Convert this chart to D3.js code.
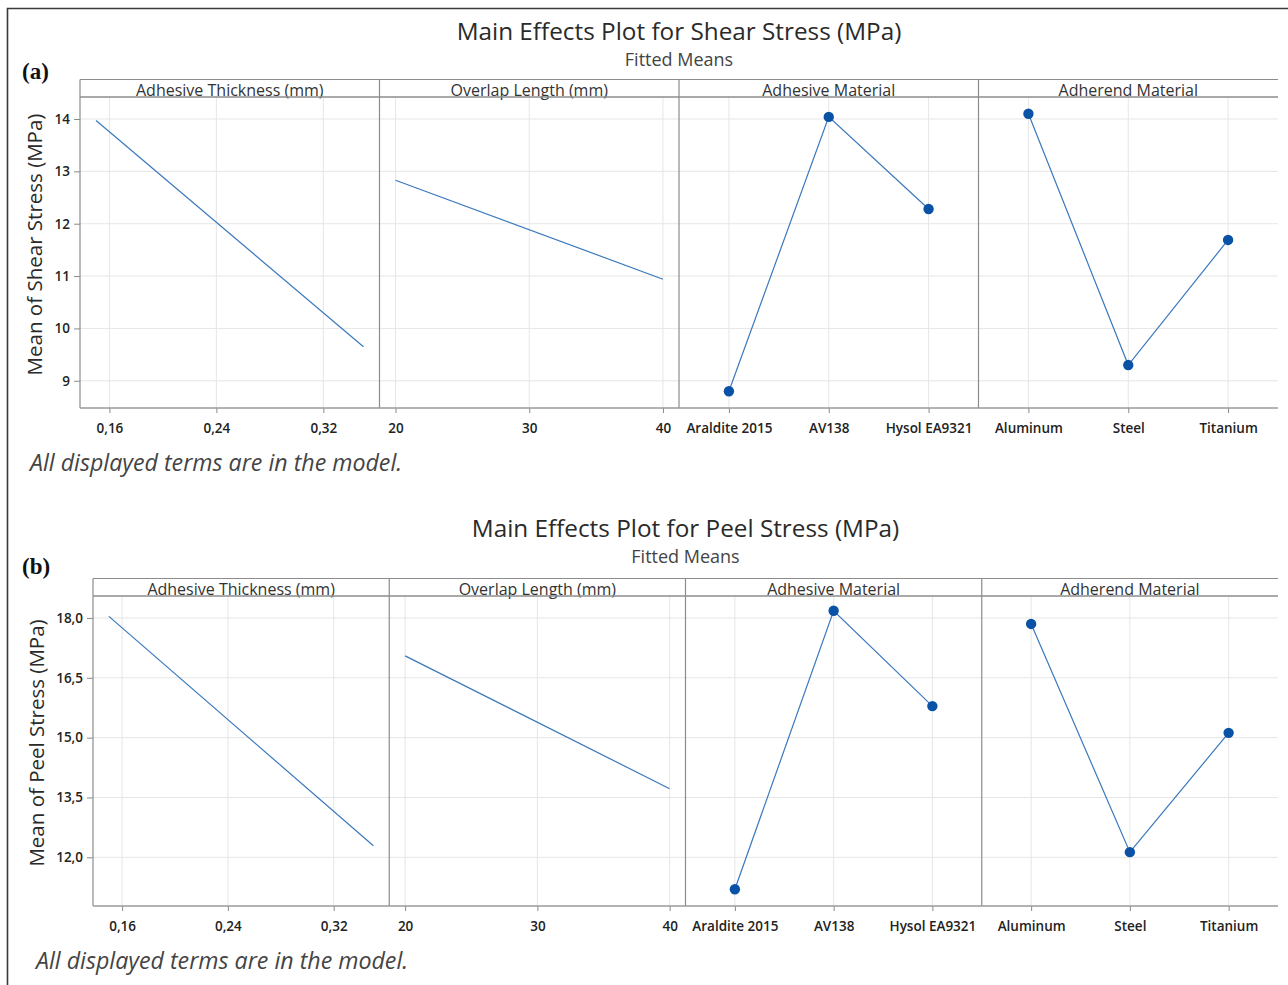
<!DOCTYPE html>
<html><head><meta charset="utf-8">
<script src="https://cdn.jsdelivr.net/npm/d3@7"></script>
<style>
body{margin:0;background:#fff;}
svg{display:block;}
text{font-family:"Open Sans","Noto Sans",sans-serif;}
</style></head>
<body><svg id="c" width="1288" height="985"></svg>
<script>
// ---------- data ----------
const factors = ["Adhesive Thickness (mm)", "Overlap Length (mm)", "Adhesive Material", "Adherend Material"];
const thicknessLevels = [0.15, 0.35];
const overlapLevels = [20, 40];
const adhesiveLevels = ["Araldite 2015", "AV138", "Hysol EA9321"];
const adherendLevels = ["Aluminum", "Steel", "Titanium"];
const thicknessTicks = [0.16, 0.24, 0.32];
const overlapTicks = [20, 30, 40];

const shearThickness = [13.97, 9.65];
const shearOverlap = [12.83, 10.94];
const shearAdhesive = [8.80, 14.04, 12.28];
const shearAdherend = [14.10, 9.30, 11.69];
const shearTicks = [9, 10, 11, 12, 13, 14];
const shearDomain = [8.48, 14.42];

const peelThickness = [18.04, 12.29];
const peelOverlap = [17.05, 13.72];
const peelAdhesive = [11.20, 18.18, 15.79];
const peelAdherend = [17.85, 12.13, 15.12];
const peelTicks = [12.0, 13.5, 15.0, 16.5, 18.0];
const peelDomain = [10.78, 18.55];

// ---------- layout ----------
const svg = d3.select("#c");
const fmtComma = d => d3.format(".2f")(d).replace(".", ",");
const fmt1 = d => d3.format(".1f")(d).replace(".", ",");

// outer frame
svg.append("path").attr("d", "M7.5,986 V8.5 H1289").attr("fill", "none")
  .attr("stroke", "#3a3a3a").attr("stroke-width", 1.6);

function drawChart(cfg) {
  const g = svg.append("g");
  const L = cfg.left, R = 1278, sT = cfg.stripTop, sB = cfg.stripBottom, pB = cfg.plotBottom;
  const pw = (R - L) / 4;
  const y = d3.scaleLinear().domain(cfg.yDomain).range([pB, sB]);

  // titles
  const cx = (L + R) / 2;
  g.append("text").attr("x", cx).attr("y", cfg.titleY).attr("text-anchor", "middle")
    .attr("font-size", 24.3).attr("fill", "#2a2a2a").text(cfg.title);
  g.append("text").attr("x", cx).attr("y", cfg.titleY + 26).attr("text-anchor", "middle")
    .attr("font-size", 18).attr("fill", "#444").text("Fitted Means");
  g.append("text").attr("x", 22).attr("y", cfg.tagY)
    .style("font-family", "'Liberation Serif','DejaVu Serif',serif")
    .attr("font-weight", "bold").attr("font-size", 23).attr("fill", "#111").text(cfg.tag);

  const panels = [
    {type: "lin", levels: thicknessLevels, vals: cfg.thickness, ticks: thicknessTicks, fmt: fmtComma},
    {type: "lin", levels: overlapLevels, vals: cfg.overlap, ticks: overlapTicks, fmt: d3.format("d")},
    {type: "cat", levels: adhesiveLevels, vals: cfg.adhesive},
    {type: "cat", levels: adherendLevels, vals: cfg.adherend}
  ];

  // horizontal grid
  g.append("g").selectAll("line").data(cfg.yTicks).join("line")
    .attr("x1", L).attr("x2", R).attr("y1", d => y(d)).attr("y2", d => y(d))
    .attr("stroke", "#e6e6e6").attr("stroke-width", 1);

  panels.forEach((p, i) => {
    const x0 = L + i * pw, x1 = x0 + pw;
    let x, ticks;
    if (p.type === "lin") {
      const [a, b] = p.levels, pad = (b - a) * 0.06;
      x = d3.scaleLinear().domain([a - pad, b + pad]).range([x0, x1]);
      ticks = p.ticks;
    } else {
      x = d3.scalePoint().domain(p.levels).range([x0, x1]).padding(0.5);
      ticks = p.levels;
    }
    const pg = g.append("g");
    // vertical grid
    pg.selectAll("line.vg").data(ticks).join("line").attr("class", "vg")
      .attr("x1", d => x(d)).attr("x2", d => x(d)).attr("y1", sB).attr("y2", pB)
      .attr("stroke", "#e6e6e6");
    // x axis
    const ax = p.type === "lin" ? d3.axisBottom(x).tickValues(ticks).tickFormat(p.fmt) : d3.axisBottom(x);
    const axg = pg.append("g").attr("transform", `translate(0,${pB})`).call(ax.tickSize(5).tickPadding(10));
    axg.select(".domain").remove();
    axg.selectAll(".tick line").attr("stroke", "#8a8a8a");
    axg.selectAll(".tick text").attr("font-size", 13.5).attr("font-weight", 600).attr("fill", "#222")
      .style("font-family", "'Open Sans','Noto Sans',sans-serif");
    // data
    const pts = p.levels.map((lv, k) => [x(lv), y(p.vals[k])]);
    pg.append("path").attr("d", d3.line()(pts)).attr("fill", "none")
      .attr("stroke", "#3a78bd").attr("stroke-width", 1.2);
    if (p.type === "cat") {
      pg.selectAll("circle").data(pts).join("circle")
        .attr("cx", d => d[0]).attr("cy", d => d[1]).attr("r", 5.2).attr("fill", "#0a52a5");
    }
    // strip label
    pg.append("text").attr("x", (x0 + x1) / 2).attr("y", sB - 1).attr("text-anchor", "middle")
      .attr("font-size", 16).attr("fill", "#333").text(factors[i]);
    // divider
    pg.append("line").attr("x1", x0).attr("x2", x0).attr("y1", sT).attr("y2", pB)
      .attr("stroke", "#8c8c8c").attr("stroke-width", 1.2);
  });

  // strip lines and bottom axis
  g.append("line").attr("x1", L).attr("x2", R).attr("y1", sT).attr("y2", sT).attr("stroke", "#8c8c8c").attr("stroke-width", 1.2);
  g.append("line").attr("x1", L).attr("x2", R).attr("y1", sB).attr("y2", sB).attr("stroke", "#8c8c8c").attr("stroke-width", 1.6);
  g.append("line").attr("x1", L).attr("x2", R).attr("y1", pB).attr("y2", pB).attr("stroke", "#9a9a9a").attr("stroke-width", 1.4);

  // y axis
  const yax = g.append("g").attr("transform", `translate(${L},0)`)
    .call(d3.axisLeft(y).tickValues(cfg.yTicks).tickFormat(cfg.yFmt).tickSize(6).tickPadding(4));
  yax.select(".domain").remove();
  yax.selectAll(".tick line").attr("stroke", "#8a8a8a");
  yax.selectAll(".tick text").attr("font-size", 13.5).attr("font-weight", 600).attr("fill", "#222")
    .style("font-family", "'Open Sans','Noto Sans',sans-serif");

  g.append("text").attr("transform", `translate(${cfg.ylabX},${(sB + pB) / 2 - 8}) rotate(-90)`)
    .attr("text-anchor", "middle").attr("font-size", 20.5).attr("fill", "#2a2a2a").text(cfg.ylab);

  g.append("text").attr("x", cfg.footX).attr("y", cfg.footY).attr("font-size", 23.2)
    .attr("font-style", "italic").attr("fill", "#444").text("All displayed terms are in the model.");
}

drawChart({
  left: 80, stripTop: 79.5, stripBottom: 97, plotBottom: 408,
  titleY: 40, tagY: 79, tag: "(a)",
  title: "Main Effects Plot for Shear Stress (MPa)",
  yDomain: shearDomain, yTicks: shearTicks, yFmt: d3.format("d"),
  thickness: shearThickness, overlap: shearOverlap, adhesive: shearAdhesive, adherend: shearAdherend,
  ylab: "Mean of Shear Stress (MPa)", ylabX: 42, footX: 30, footY: 471
});
drawChart({
  left: 93, stripTop: 578.5, stripBottom: 596, plotBottom: 906,
  titleY: 537, tagY: 574, tag: "(b)",
  title: "Main Effects Plot for Peel Stress (MPa)",
  yDomain: peelDomain, yTicks: peelTicks, yFmt: fmt1,
  thickness: peelThickness, overlap: peelOverlap, adhesive: peelAdhesive, adherend: peelAdherend,
  ylab: "Mean of Peel Stress (MPa)", ylabX: 44, footX: 36, footY: 969
});
</script></body></html>
